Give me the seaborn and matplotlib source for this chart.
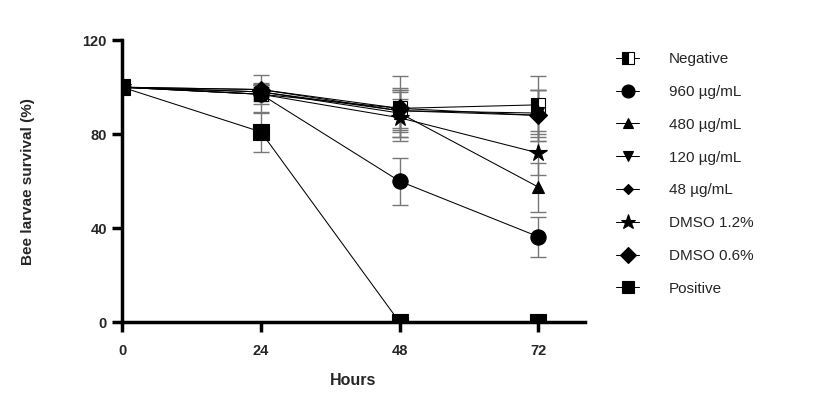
import matplotlib
matplotlib.use("Agg")
import matplotlib.pyplot as plt
import seaborn as sns
import pandas as pd

hours = [0, 24, 48, 72]
series_names = ["Negative", "960 µg/mL", "480 µg/mL", "120 µg/mL", "48 µg/mL",
                "DMSO 1.2%", "DMSO 0.6%", "Positive"]
negative = [100, 97, 91, 92.5]
c960 = [100, 97, 60, 36.4]
c480 = [100, 98, 89, 57.5]
c120 = [100, 98, 90, 89]
c48 = [100, 99, 90, 88]
dmso12 = [100, 97, 87, 72]
dmso06 = [100, 99, 91, 88]
positive = [100, 81, 0, 0]

negative_err = [0, 4, 13.8, 12.3]
c960_err = [0, 3, 10, 8.6]
c480_err = [0, 3, 10, 10.4]
c120_err = [0, 3, 8, 10]
c48_err = [0, 2.5, 9, 11]
dmso12_err = [0, 8, 8, 9.5]
dmso06_err = [0, 3, 8.5, 11]
positive_err = [0, 8.5, 0, 0]

values = [negative, c960, c480, c120, c48, dmso12, dmso06, positive]
errors = [negative_err, c960_err, c480_err, c120_err, c48_err, dmso12_err, dmso06_err, positive_err]

styles = [
    dict(marker="s", markersize=10, fillstyle="left", markerfacecoloralt="white"),
    dict(marker="o", markersize=11),
    dict(marker="^", markersize=9),
    dict(marker="v", markersize=9),
    dict(marker="D", markersize=6),
    dict(marker="*", markersize=13),
    dict(marker="D", markersize=9),
    dict(marker="s", markersize=11),
]

sns.set_style("ticks")
plt.rcParams["font.family"] = ["Liberation Sans", "DejaVu Sans"]

fig = plt.figure(figsize=(8.2, 3.94), dpi=100)
ax = fig.add_axes([0.149, 0.182, 0.564, 0.716])

for name, vals, errs, st in zip(series_names, values, errors, styles):
    df = pd.DataFrame({"Hours": hours, "Survival": vals})
    ax.errorbar(df["Hours"], df["Survival"], yerr=errs, fmt="none",
                ecolor="#777777", elinewidth=1.0, capsize=6, capthick=1.0, zorder=2)
    sns.lineplot(data=df, x="Hours", y="Survival", ax=ax, color="black",
                 linewidth=0.75, label=name, markeredgecolor="black",
                 markerfacecolor="black", markeredgewidth=0.8, zorder=3, **st)

ax.set_xlim(0, 80)
ax.set_ylim(0, 120)
ax.set_xticks([0, 24, 48, 72])
ax.set_yticks([0, 40, 80, 120])
for s in ["top", "right"]:
    ax.spines[s].set_visible(False)
for s in ["left", "bottom"]:
    ax.spines[s].set_linewidth(2.5)
    ax.spines[s].set_color("black")
ax.tick_params(axis="both", width=2.5, length=7, color="black", labelsize=10.5)
ax.tick_params(axis="x", pad=8.5)
ax.tick_params(axis="y", pad=4)
for lab in ax.get_xticklabels() + ax.get_yticklabels():
    lab.set_fontweight("bold")
ax.set_xlabel("Hours", fontsize=11.5, fontweight="bold", labelpad=11)
ax.set_ylabel("Bee larvae survival (%)", fontsize=11, fontweight="bold", labelpad=34)

ax.legend(loc="upper left", bbox_to_anchor=(1.0556, 0.979), frameon=False,
          fontsize=11, labelspacing=1.23, handlelength=1.5, handletextpad=1.93,
          borderaxespad=0, markerscale=0.85)

fig.savefig("out.png", dpi=100)
